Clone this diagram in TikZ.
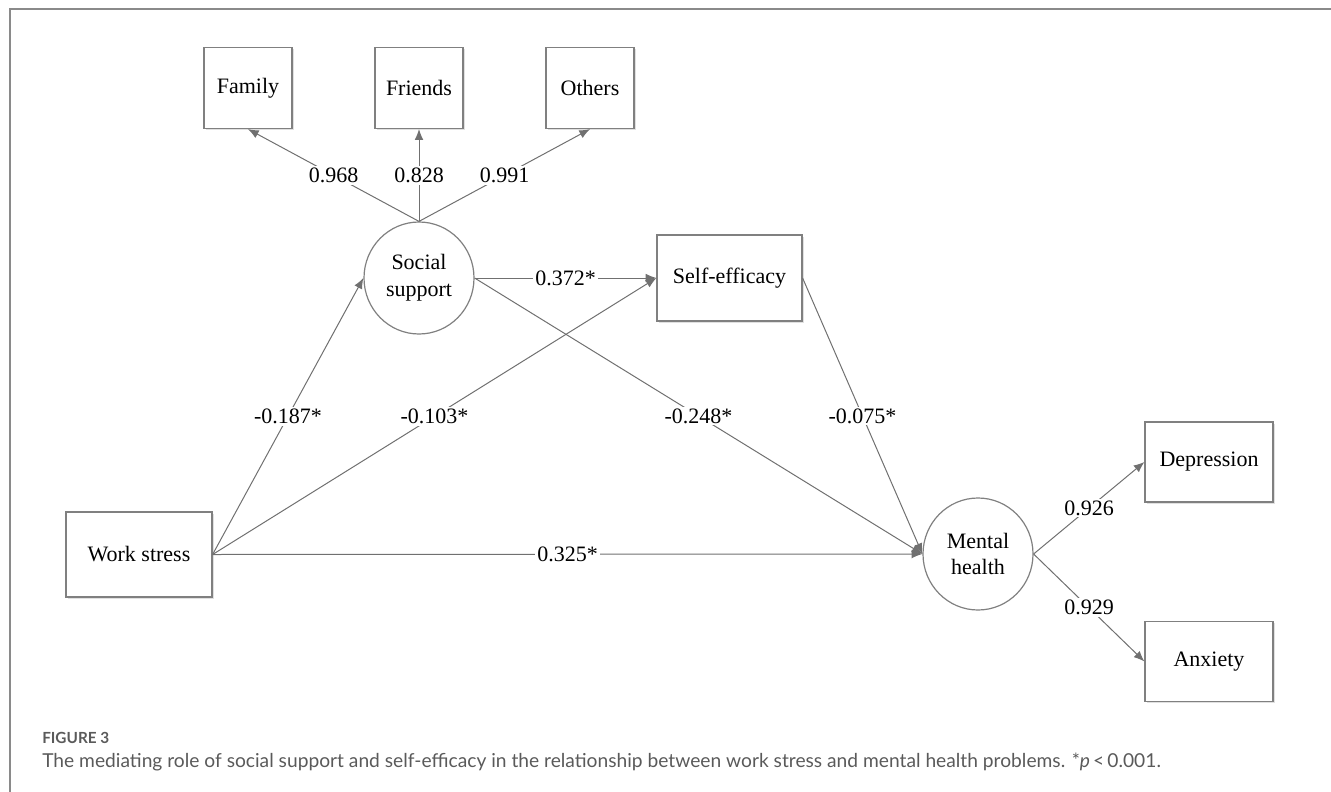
\documentclass[tikz,border=0pt]{standalone}
\usepackage{fontspec}
\setmainfont{Liberation Serif}
\newfontfamily\capfont{Lato}
\usetikzlibrary{arrows.meta,shapes.geometric,shadows}
\definecolor{edgegray}{HTML}{707070}
\definecolor{boxgray}{HTML}{808080}
\definecolor{capgray}{HTML}{5A5A5A}
\definecolor{framegray}{HTML}{8A8A8A}
\begin{document}
\begin{tikzpicture}[x=0.75pt,y=-0.75pt,
  every node/.style={font=\rmfamily\fontsize{16.5}{20}\selectfont},
  obsbox/.style={draw=boxgray,line width=0.9pt,fill=white,inner sep=0pt,
    drop shadow={shadow xshift=1.2pt,shadow yshift=-1.2pt,fill=black,opacity=0.12}},
  latbox/.style={ellipse,draw=boxgray,line width=0.9pt,fill=white,inner sep=0pt,
    minimum width=82.5pt,minimum height=84pt,align=center},
  path/.style={draw=edgegray,line width=0.75pt,-{Latex[length=8pt,width=6.5pt]}},
  lbl/.style={fill=white,inner sep=1.5pt,font=\rmfamily\fontsize{16.5}{20}\selectfont}
]
\useasboundingbox (0,0) rectangle (1331,792);
\draw[framegray,line width=1.1pt] (10,792) -- (10,9) -- (1331,9);

% nodes
\node[obsbox,minimum width=66pt,minimum height=60.75pt] (fam) at (248,88) {Family};
\node[obsbox,minimum width=66pt,minimum height=60.75pt] (fri) at (419,88) {Friends};
\node[obsbox,minimum width=66pt,minimum height=60.75pt] (oth) at (590,88) {Others};
\node[latbox] (ss) at (419,278) {Social\\support};
\node[obsbox,minimum width=108.75pt,minimum height=64.5pt] (se) at (729.5,278) {Self-efficacy};
\node[obsbox,minimum width=109.5pt,minimum height=63.75pt] (ws) at (139,554.5) {Work stress};
\node[latbox] (mh) at (978,554) {Mental\\health};
\node[obsbox,minimum width=96pt,minimum height=60pt] (dep) at (1209,462) {Depression};
\node[obsbox,minimum width=96pt,minimum height=60pt] (anx) at (1209,661.5) {Anxiety};

% edges
\draw[path] (ss.north) -- node[lbl]{0.968} (fam.south);
\draw[path] (ss.north) -- node[lbl]{0.828} (fri.south);
\draw[path] (ss.north) -- node[lbl]{0.991} (oth.south);
\draw[path] (ws.east) -- node[lbl]{-0.187*} (ss.west);
\draw[path] (ws.east) -- node[lbl]{-0.103*} (se.west);
\draw[path] (ws.east) -- node[lbl]{0.325*} (mh.west);
\draw[path] (ss.east) -- node[lbl]{0.372*} (se.west);
\draw[path] (ss.east) -- node[lbl]{-0.248*} (mh.west);
\draw[path] (se.east) -- node[lbl]{-0.075*} (mh.west);
\draw[path] (mh.east) -- node[lbl]{0.926} (dep.west);
\draw[path] (mh.east) -- node[lbl]{0.929} (anx.west);

% caption
\node[anchor=base west,inner sep=0pt,text=capgray,font=\capfont\bfseries\fontsize{11.5}{14}\selectfont] (figlbl) at (42,743) {FIGURE 3};
\node[anchor=base west,inner sep=0pt,text=capgray,font=\capfont\fontsize{14.4}{17}\selectfont] (cap) at (42,767) {The mediating role of social support and self-efficacy in the relationship between work stress and mental health problems. *\textit{p}\,<\,0.001.};
\end{tikzpicture}
\end{document}
